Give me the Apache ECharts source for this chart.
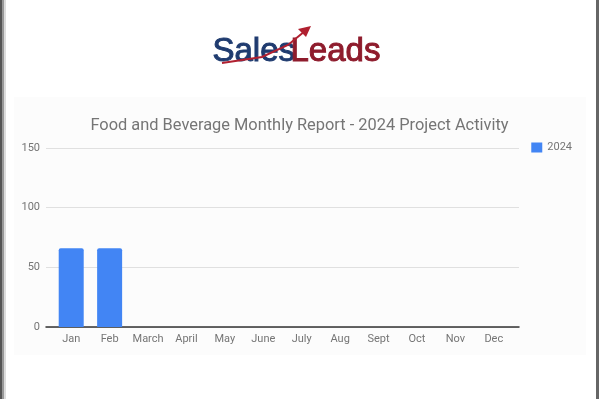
<!DOCTYPE html>
<html><head><meta charset="utf-8">
<script src="https://cdn.jsdelivr.net/npm/echarts@6/dist/echarts.min.js"></script>
<style>html,body{margin:0;padding:0;background:#fff}#c{width:599px;height:399px}</style>
</head><body><div id="c"></div>
<script>
const categories = ['Jan','Feb','March','April','May','June','July','Aug','Sept','Oct','Nov','Dec'];
const values2024 = [66, 66, 0, 0, 0, 0, 0, 0, 0, 0, 0, 0];
const seriesName = '2024';
const yTicks = [0, 50, 100, 150];
const titleText = 'Food and Beverage Monthly Report - 2024 Project Activity';

const chart = echarts.init(document.getElementById('c'), null, {renderer:'canvas'});
const font = 'Roboto, Arial, sans-serif';
chart.setOption({
  backgroundColor: '#ffffff',
  animation: false,
  title: {
    text: titleText, left: 'center', top: 113,
    textStyle: {fontFamily: font, fontSize: 16.4, fontWeight: 'normal', color: '#757575'}
  },
  legend: {
    data: [seriesName], right: 27, top: 142, padding: 0, itemWidth: 11, itemHeight: 10, itemGap: 5,
    icon: 'rect',
    textStyle: {fontFamily: font, fontSize: 11, color: '#757575'}
  },
  graphic: [
    {type:'rect', z:-10, shape:{x:14,y:97,width:572,height:258}, style:{fill:'#fcfcfc'}, silent:true},
    {type:'rect', z:100, shape:{x:0,y:0,width:2,height:399}, style:{fill:'#555'}},
    {type:'rect', z:100, shape:{x:2,y:0,width:2,height:399}, style:{fill:'#999'}},
    {type:'rect', z:100, shape:{x:4,y:0,width:2,height:399}, style:{fill:'#ddd'}},
    {type:'rect', z:100, shape:{x:596,y:0,width:3,height:399}, style:{fill:'#666'}},
    {type:'text', z:50, left:212, top:35, style:{text:'Sales', fill:'#1f3b6f', stroke:'#1f3b6f', lineWidth:1, font:'normal 33px "Liberation Sans", Arial, sans-serif'}},
    {type:'text', z:50, left:290, top:35, style:{text:'Leads', fill:'#8e1b2c', stroke:'#8e1b2c', lineWidth:1, font:'normal 33px "Liberation Sans", Arial, sans-serif'}},
    {type:'polyline', z:51, shape:{points:[[222,63],[262,57],[288,45],[305,31]]}, style:{stroke:'#b02030', lineWidth:2, fill:'none'}},
    {type:'polygon', z:51, shape:{points:[[311,26],[298,29],[306,37]]}, style:{fill:'#b02030'}}
  ],
  grid: [
    {left:46, right:80, top:148, bottom:72},
    {left:52, right:86, top:148, bottom:72}
  ],
  xAxis: [
    {type:'category', gridIndex:0, data:categories, axisLine:{show:true, lineStyle:{color:'#333', width:1.5}},
     axisTick:{show:false}, axisLabel:{show:false}, splitLine:{show:false}},
    {type:'category', gridIndex:1, data:categories, axisLine:{show:false}, axisTick:{show:false},
     axisLabel:{fontFamily:font, fontSize:11, color:'#757575', margin:7, interval:0}}
  ],
  yAxis: [
    {type:'value', gridIndex:0, min:0, max:150, interval:50,
     axisLabel:{fontFamily:font, fontSize:11, color:'#757575', margin:6},
     splitLine:{lineStyle:{color:'#e0e0e0'}}, axisLine:{show:false}, axisTick:{show:false}},
    {type:'value', gridIndex:1, min:0, max:150, interval:50, show:false}
  ],
  series: [{
    name: seriesName, type:'bar', xAxisIndex:1, yAxisIndex:1, data: values2024,
    barWidth: 25, itemStyle:{color:'#4285f4', borderRadius:[2,2,0,0]}
  }]
});
</script></body></html>
